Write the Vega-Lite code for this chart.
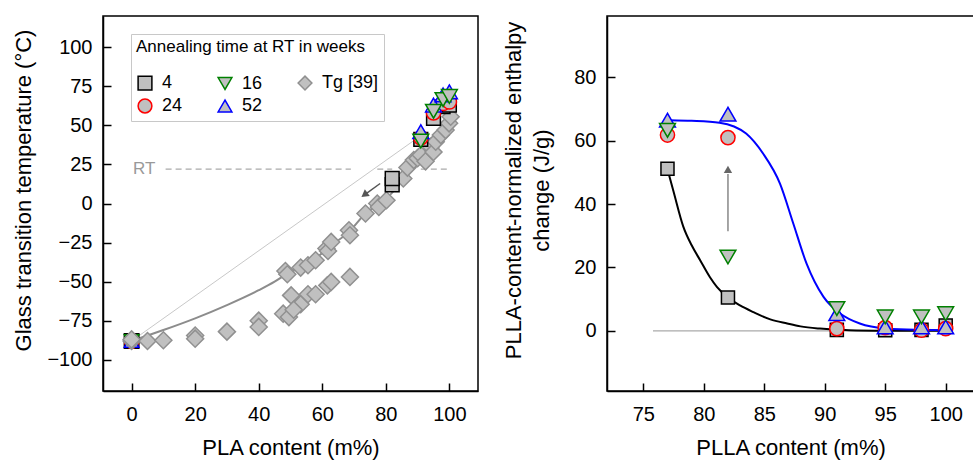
{
"$schema":"https://vega.github.io/schema/vega-lite/v6.json",
"autosize":{"type":"pad"},
"padding":{"left":12,"top":15,"right":0,"bottom":0},
"bounds":"flush",
"spacing":129,
"config":{
 "font":"Liberation Sans",
 "view":{"stroke":"black","strokeWidth":1.5},
 "axis":{"grid":false,"domainColor":"black","domainWidth":1.5,"tickColor":"black","tickWidth":1.5,"tickSize":-8,"labelFontSize":20,"labelColor":"black","labelPadding":19,"titleFontSize":22,"titleFontWeight":"normal","titleColor":"black","labelFlush":false,"labelOverlap":false},
 "axisX":{"labelPadding":21.5,"titlePadding":13},
 "point":{"opacity":1}
},
"resolve":{"scale":{"shape":"independent","stroke":"independent"}},
"datasets":{
 "tg":[
  {"x":0,"y":-88,"s":"Tg [39]"},{"x":0,"y":-87,"s":"Tg [39]"},{"x":5,"y":-88,"s":"Tg [39]"},{"x":10,"y":-87.5,"s":"Tg [39]"},
  {"x":20,"y":-84.5,"s":"Tg [39]"},{"x":20,"y":-86.5,"s":"Tg [39]"},{"x":30,"y":-82,"s":"Tg [39]"},{"x":40,"y":-75,"s":"Tg [39]"},{"x":40,"y":-79,"s":"Tg [39]"},
  {"x":47.7,"y":-70.5,"s":"Tg [39]"},{"x":49.5,"y":-72.7,"s":"Tg [39]"},{"x":50.2,"y":-58.8,"s":"Tg [39]"},{"x":53.2,"y":-64.5,"s":"Tg [39]"},{"x":51,"y":-68,"s":"Tg [39]"},
  {"x":55.5,"y":-58.1,"s":"Tg [39]"},{"x":57.9,"y":-58.1,"s":"Tg [39]"},{"x":61.6,"y":-52.4,"s":"Tg [39]"},{"x":62.8,"y":-50.2,"s":"Tg [39]"},{"x":68.7,"y":-47,"s":"Tg [39]"},
  {"x":48.4,"y":-43.2,"s":"Tg [39]"},{"x":49,"y":-45.3,"s":"Tg [39]"},{"x":53.2,"y":-41,"s":"Tg [39]"},{"x":55.5,"y":-39.5,"s":"Tg [39]"},{"x":57.9,"y":-36.3,"s":"Tg [39]"},
  {"x":61.3,"y":-28.8,"s":"Tg [39]"},{"x":61.8,"y":-30.4,"s":"Tg [39]"},{"x":62.8,"y":-24.6,"s":"Tg [39]"},{"x":68.4,"y":-17.1,"s":"Tg [39]"},{"x":68.7,"y":-20.3,"s":"Tg [39]"},
  {"x":73.6,"y":-6.4,"s":"Tg [39]"},{"x":77.3,"y":0,"s":"Tg [39]"},{"x":77.8,"y":-2.2,"s":"Tg [39]"},{"x":80.2,"y":2.1,"s":"Tg [39]"},{"x":85.5,"y":16,"s":"Tg [39]"},
  {"x":86.8,"y":23,"s":"Tg [39]"},{"x":88.8,"y":27.8,"s":"Tg [39]"},{"x":90,"y":29,"s":"Tg [39]"},{"x":91,"y":31,"s":"Tg [39]"},{"x":92.5,"y":27,"s":"Tg [39]"},
  {"x":94.1,"y":36.3,"s":"Tg [39]"},{"x":95,"y":33,"s":"Tg [39]"},{"x":95.7,"y":39.5,"s":"Tg [39]"},{"x":97.3,"y":43.8,"s":"Tg [39]"},{"x":98.8,"y":47,"s":"Tg [39]"},
  {"x":99.9,"y":51.3,"s":"Tg [39]"},{"x":100.4,"y":55.5,"s":"Tg [39]"}
 ],
 "annL0":[{"x":0,"y":-88,"s":"4"},{"x":0,"y":-88,"s":"24"},{"x":0,"y":-88,"s":"52"},{"x":0,"y":-88,"s":"16"}],
 "annL":[
  {"x":82,"y":12,"s":"4"},{"x":82,"y":16,"s":"4"},
  {"x":91,"y":41,"s":"4"},{"x":91,"y":42,"s":"24"},{"x":91,"y":46,"s":"52"},{"x":91,"y":40,"s":"16"},
  {"x":95,"y":54.5,"s":"4"},{"x":95,"y":58,"s":"24"},{"x":95,"y":63,"s":"52"},{"x":95,"y":59,"s":"16"},
  {"x":98,"y":62,"s":"4"},{"x":98,"y":64,"s":"24"},{"x":98,"y":69.5,"s":"52"},{"x":98,"y":66.5,"s":"16"},
  {"x":100,"y":63,"s":"4"},{"x":100,"y":65,"s":"24"},{"x":100,"y":71.5,"s":"52"},{"x":100,"y":68.5,"s":"16"}
 ],
 "annR":[
  {"x":77,"y":51.2,"s":"4"},{"x":77,"y":61.8,"s":"24"},{"x":77,"y":66.5,"s":"52"},{"x":77,"y":63.3,"s":"16"},
  {"x":82,"y":10.5,"s":"4"},{"x":82,"y":61,"s":"24"},{"x":82,"y":68.4,"s":"52"},{"x":82,"y":23.3,"s":"16"},
  {"x":91,"y":0.3,"s":"4"},{"x":91,"y":0.7,"s":"24"},{"x":91,"y":5.4,"s":"52"},{"x":91,"y":7,"s":"16"},
  {"x":95,"y":0.2,"s":"4"},{"x":95,"y":1,"s":"24"},{"x":95,"y":1.2,"s":"52"},{"x":95,"y":4.4,"s":"16"},
  {"x":98,"y":0.3,"s":"4"},{"x":98,"y":0.2,"s":"24"},{"x":98,"y":1.2,"s":"52"},{"x":98,"y":4.4,"s":"16"},
  {"x":100,"y":1.7,"s":"4"},{"x":100,"y":0.7,"s":"24"},{"x":100,"y":1.2,"s":"52"},{"x":100,"y":5.4,"s":"16"}
 ],
 "thinL":[{"x":0,"y":-88},{"x":90,"y":42}],
 "curveL":[{"x":0,"y":-88},{"x":10,"y":-81},{"x":20,"y":-73.5},{"x":30,"y":-65},{"x":40,"y":-55.5},{"x":45,"y":-50},{"x":48.5,"y":-45.5},{"x":54,"y":-39.5},{"x":58,"y":-35},{"x":62,"y":-28},{"x":68.5,"y":-18},{"x":73.6,"y":-6.4},{"x":78,"y":0},{"x":82,"y":7},{"x":86,"y":18},{"x":90,"y":29},{"x":94,"y":36},{"x":98,"y":46},{"x":100.4,"y":54}],
 "rtL":[{"x":10.7,"x2":69,"y":22},{"x":77.3,"x2":82,"y":22},{"x":91,"x2":100.4,"y":22}],
 "rtText":[{"x":7.5,"y":22,"t":"RT"}],
 "arrowL":[{"x":78.2,"y":12.8,"x2":73.6,"y2":6}],
 "arrowLHead":[{"x":73.25,"y":5.6}],
 "zeroR":[{"x":75.8,"x2":100.4,"y":0}],
 "fitBlack":[{"x":77,"y":51},{"x":77.5,"y":44},{"x":78.3,"y":33},{"x":79,"y":27},{"x":79.7,"y":22.3},{"x":80.5,"y":17},{"x":81.1,"y":13.8},{"x":82,"y":10.5},{"x":83,"y":8},{"x":84.1,"y":5.9},{"x":85.5,"y":3.6},{"x":86.9,"y":2.3},{"x":88,"y":1.4},{"x":89.6,"y":0.7},{"x":92,"y":0.2},{"x":95,"y":0.05},{"x":100,"y":0}],
 "fitBlue":[{"x":77.2,"y":66.5},{"x":79,"y":66.3},{"x":81.3,"y":65.7},{"x":82.5,"y":64.5},{"x":83.5,"y":62.3},{"x":84.9,"y":56},{"x":86.3,"y":46.5},{"x":87.4,"y":33.9},{"x":88.5,"y":21.2},{"x":89.9,"y":10.7},{"x":91.3,"y":5.4},{"x":92.9,"y":2.3},{"x":95.1,"y":0.7},{"x":97.5,"y":0.3},{"x":100.4,"y":0.2}],
 "arrowR":[{"x":82,"y":31.4,"y2":49.5}],
 "arrowRHead":[{"x":82,"y":51}]
},
"hconcat":[
 {
  "width":375,"height":375,
  "layer":[
   {"data":{"name":"thinL"},"mark":{"type":"line","color":"#c8c8c8","strokeWidth":1},
    "encoding":{
     "x":{"field":"x","type":"quantitative","scale":{"domain":[-9,109],"nice":false,"zero":false},"axis":{"values":[0,20,40,60,80,100],"title":"PLA content (m%)"}},
     "y":{"field":"y","type":"quantitative","scale":{"domain":[-120,120],"nice":false,"zero":false},"axis":{"values":[-100,-75,-50,-25,0,25,50,75,100],"title":"Glass transition temperature (°C)","titlePadding":11,"titleY":174}}}},
   {"data":{"name":"curveL"},"mark":{"type":"line","color":"#8c8c8c","strokeWidth":2,"interpolate":"monotone"},
    "encoding":{
     "x":{"field":"x","type":"quantitative","scale":{"domain":[-9,109],"nice":false,"zero":false}},
     "y":{"field":"y","type":"quantitative","scale":{"domain":[-120,120],"nice":false,"zero":false}}}},
   {"data":{"name":"rtL"},"mark":{"type":"rule","color":"#aaaaaa","strokeWidth":1.2,"strokeDash":[6,4]},
    "encoding":{
     "x":{"field":"x","type":"quantitative","scale":{"domain":[-9,109],"nice":false,"zero":false}},
     "x2":{"field":"x2"},
     "y":{"field":"y","type":"quantitative","scale":{"domain":[-120,120],"nice":false,"zero":false}}}},
   {"data":{"name":"rtText"},"mark":{"type":"text","align":"right","baseline":"middle","fontSize":17,"color":"#999999"},
    "encoding":{
     "x":{"field":"x","type":"quantitative","scale":{"domain":[-9,109],"nice":false,"zero":false}},
     "y":{"field":"y","type":"quantitative","scale":{"domain":[-120,120],"nice":false,"zero":false}},
     "text":{"field":"t"}}},
   {"data":{"name":"annL0"},"mark":{"type":"point","filled":true,"fill":"#c0c0c0","strokeWidth":1.5,"size":210,"opacity":1},
    "encoding":{
     "x":{"field":"x","type":"quantitative","scale":{"domain":[-9,109],"nice":false,"zero":false}},
     "y":{"field":"y","type":"quantitative","scale":{"domain":[-120,120],"nice":false,"zero":false}},
     "shape":{"field":"s","type":"nominal","scale":{"domain":["4","24","16","52","Tg [39]"],"range":["square","circle","triangle-down","triangle-up","diamond"]},
      "legend":{"orient":"none","legendX":28,"legendY":18,"title":"Annealing  time at RT in weeks","titleLimit":400,"titleFontSize":17,"titleFontWeight":"normal","titleColor":"black","titlePadding":18,"columns":3,"columnPadding":32,"rowPadding":3,"labelFontSize":18,"labelColor":"black","labelOffset":8,"symbolSize":190,"symbolStrokeWidth":1.5,"symbolFillColor":"#c0c0c0","strokeColor":"#c8c8c8","fillColor":"white","padding":5}},
     "stroke":{"field":"s","type":"nominal","scale":{"domain":["4","24","16","52","Tg [39]"],"range":["black","#ff0000","#008000","#0000ff","#909090"]},
      "legend":{"orient":"none","legendX":28,"legendY":18,"title":"Annealing  time at RT in weeks","titleLimit":400,"titleFontSize":17,"titleFontWeight":"normal","titleColor":"black","titlePadding":18,"columns":3,"columnPadding":32,"rowPadding":3,"labelFontSize":18,"labelColor":"black","labelOffset":8,"symbolSize":190,"symbolStrokeWidth":1.5,"symbolFillColor":"#c0c0c0","strokeColor":"#c8c8c8","fillColor":"white","padding":5}}}},
   {"data":{"name":"tg"},"mark":{"type":"point","filled":true,"fill":"#c0c0c0","strokeWidth":1.5,"size":290,"opacity":1},
    "encoding":{
     "x":{"field":"x","type":"quantitative","scale":{"domain":[-9,109],"nice":false,"zero":false}},
     "y":{"field":"y","type":"quantitative","scale":{"domain":[-120,120],"nice":false,"zero":false}},
     "shape":{"field":"s","type":"nominal","scale":{"domain":["4","24","16","52","Tg [39]"],"range":["square","circle","triangle-down","triangle-up","diamond"]}},
     "stroke":{"field":"s","type":"nominal","scale":{"domain":["4","24","16","52","Tg [39]"],"range":["black","#ff0000","#008000","#0000ff","#909090"]}}}},
   {"data":{"name":"arrowL"},"mark":{"type":"rule","color":"#555555","strokeWidth":1.5},
    "encoding":{
     "x":{"field":"x","type":"quantitative","scale":{"domain":[-9,109],"nice":false,"zero":false}},
     "y":{"field":"y","type":"quantitative","scale":{"domain":[-120,120],"nice":false,"zero":false}},
     "x2":{"field":"x2"},"y2":{"field":"y2"}}},
   {"data":{"name":"arrowLHead"},"mark":{"type":"point","shape":"triangle-up","filled":true,"color":"#555555","size":70,"angle":234,"opacity":1},
    "encoding":{
     "x":{"field":"x","type":"quantitative","scale":{"domain":[-9,109],"nice":false,"zero":false}},
     "y":{"field":"y","type":"quantitative","scale":{"domain":[-120,120],"nice":false,"zero":false}}}},
   {"data":{"name":"annL"},"mark":{"type":"point","filled":true,"fill":"#c0c0c0","strokeWidth":1.5,"size":190,"opacity":1},
    "transform":[{"filter":"datum.s == '4'"}],
    "encoding":{
     "x":{"field":"x","type":"quantitative","scale":{"domain":[-9,109],"nice":false,"zero":false}},
     "y":{"field":"y","type":"quantitative","scale":{"domain":[-120,120],"nice":false,"zero":false}},
     "shape":{"field":"s","type":"nominal","scale":{"domain":["4","24","16","52","Tg [39]"],"range":["square","circle","triangle-down","triangle-up","diamond"]}},
     "stroke":{"field":"s","type":"nominal","scale":{"domain":["4","24","16","52","Tg [39]"],"range":["black","#ff0000","#008000","#0000ff","#909090"]}}}},
   {"data":{"name":"annL"},"mark":{"type":"point","filled":true,"fill":"#c0c0c0","strokeWidth":1.5,"size":200,"opacity":1},
    "transform":[{"filter":"datum.s == '24'"}],
    "encoding":{
     "x":{"field":"x","type":"quantitative","scale":{"domain":[-9,109],"nice":false,"zero":false}},
     "y":{"field":"y","type":"quantitative","scale":{"domain":[-120,120],"nice":false,"zero":false}},
     "shape":{"field":"s","type":"nominal","scale":{"domain":["4","24","16","52","Tg [39]"],"range":["square","circle","triangle-down","triangle-up","diamond"]}},
     "stroke":{"field":"s","type":"nominal","scale":{"domain":["4","24","16","52","Tg [39]"],"range":["black","#ff0000","#008000","#0000ff","#909090"]}}}},
   {"data":{"name":"annL"},"mark":{"type":"point","filled":true,"fill":"#c0c0c0","strokeWidth":1.5,"size":250,"opacity":1},
    "transform":[{"filter":"datum.s == '52'"}],
    "encoding":{
     "x":{"field":"x","type":"quantitative","scale":{"domain":[-9,109],"nice":false,"zero":false}},
     "y":{"field":"y","type":"quantitative","scale":{"domain":[-120,120],"nice":false,"zero":false}},
     "shape":{"field":"s","type":"nominal","scale":{"domain":["4","24","16","52","Tg [39]"],"range":["square","circle","triangle-down","triangle-up","diamond"]}},
     "stroke":{"field":"s","type":"nominal","scale":{"domain":["4","24","16","52","Tg [39]"],"range":["black","#ff0000","#008000","#0000ff","#909090"]}}}},
   {"data":{"name":"annL"},"mark":{"type":"point","filled":true,"fill":"#c0c0c0","strokeWidth":1.5,"size":250,"opacity":1},
    "transform":[{"filter":"datum.s == '16'"}],
    "encoding":{
     "x":{"field":"x","type":"quantitative","scale":{"domain":[-9,109],"nice":false,"zero":false}},
     "y":{"field":"y","type":"quantitative","scale":{"domain":[-120,120],"nice":false,"zero":false}},
     "shape":{"field":"s","type":"nominal","scale":{"domain":["4","24","16","52","Tg [39]"],"range":["square","circle","triangle-down","triangle-up","diamond"]}},
     "stroke":{"field":"s","type":"nominal","scale":{"domain":["4","24","16","52","Tg [39]"],"range":["black","#ff0000","#008000","#0000ff","#909090"]}}}}
  ]
 },
 {
  "width":367,"height":375,
  "layer":[
   {"data":{"name":"zeroR"},"mark":{"type":"rule","color":"#aaaaaa","strokeWidth":1.2},
    "encoding":{
     "x":{"field":"x","type":"quantitative","scale":{"domain":[72,102.34],"nice":false,"zero":false},"axis":{"values":[75,80,85,90,95,100],"title":"PLLA content (m%)"}},
     "x2":{"field":"x2"},
     "y":{"field":"y","type":"quantitative","scale":{"domain":[-19,99.4],"nice":false,"zero":false},"axis":{"values":[0,20,40,60,80],"title":["PLLA-content-normalized enthalpy","change (J/g)"],"titlePadding":20,"titleY":174,"titleLineHeight":28}}}},
   {"data":{"name":"fitBlack"},"mark":{"type":"line","color":"black","strokeWidth":2,"interpolate":"monotone"},
    "encoding":{
     "x":{"field":"x","type":"quantitative","scale":{"domain":[72,102.34],"nice":false,"zero":false}},
     "y":{"field":"y","type":"quantitative","scale":{"domain":[-19,99.4],"nice":false,"zero":false}}}},
   {"data":{"name":"fitBlue"},"mark":{"type":"line","color":"#0000ff","strokeWidth":2,"interpolate":"monotone"},
    "encoding":{
     "x":{"field":"x","type":"quantitative","scale":{"domain":[72,102.34],"nice":false,"zero":false}},
     "y":{"field":"y","type":"quantitative","scale":{"domain":[-19,99.4],"nice":false,"zero":false}}}},
   {"data":{"name":"arrowR"},"mark":{"type":"rule","color":"#888888","strokeWidth":1.5},
    "encoding":{
     "x":{"field":"x","type":"quantitative","scale":{"domain":[72,102.34],"nice":false,"zero":false}},
     "y":{"field":"y","type":"quantitative","scale":{"domain":[-19,99.4],"nice":false,"zero":false}},
     "y2":{"field":"y2"}}},
   {"data":{"name":"arrowRHead"},"mark":{"type":"point","shape":"triangle-up","filled":true,"color":"#666666","size":70,"opacity":1},
    "encoding":{
     "x":{"field":"x","type":"quantitative","scale":{"domain":[72,102.34],"nice":false,"zero":false}},
     "y":{"field":"y","type":"quantitative","scale":{"domain":[-19,99.4],"nice":false,"zero":false}}}},
   {"data":{"name":"annR"},"mark":{"type":"point","filled":true,"fill":"#c0c0c0","strokeWidth":1.5,"size":170,"opacity":1},
    "transform":[{"filter":"datum.s == '4'"}],
    "encoding":{
     "x":{"field":"x","type":"quantitative","scale":{"domain":[72,102.34],"nice":false,"zero":false}},
     "y":{"field":"y","type":"quantitative","scale":{"domain":[-19,99.4],"nice":false,"zero":false}},
     "shape":{"field":"s","type":"nominal","scale":{"domain":["4","24","16","52","Tg [39]"],"range":["square","circle","triangle-down","triangle-up","diamond"]},"legend":null},
     "stroke":{"field":"s","type":"nominal","scale":{"domain":["4","24","16","52","Tg [39]"],"range":["black","#ff0000","#008000","#0000ff","#909090"]},"legend":null}}},
   {"data":{"name":"annR"},"mark":{"type":"point","filled":true,"fill":"#c0c0c0","strokeWidth":1.5,"size":200,"opacity":1},
    "transform":[{"filter":"datum.s == '24'"}],
    "encoding":{
     "x":{"field":"x","type":"quantitative","scale":{"domain":[72,102.34],"nice":false,"zero":false}},
     "y":{"field":"y","type":"quantitative","scale":{"domain":[-19,99.4],"nice":false,"zero":false}},
     "shape":{"field":"s","type":"nominal","scale":{"domain":["4","24","16","52","Tg [39]"],"range":["square","circle","triangle-down","triangle-up","diamond"]},"legend":null},
     "stroke":{"field":"s","type":"nominal","scale":{"domain":["4","24","16","52","Tg [39]"],"range":["black","#ff0000","#008000","#0000ff","#909090"]},"legend":null}}},
   {"data":{"name":"annR"},"mark":{"type":"point","filled":true,"fill":"#c0c0c0","strokeWidth":1.5,"size":250,"opacity":1},
    "transform":[{"filter":"datum.s == '52'"}],
    "encoding":{
     "x":{"field":"x","type":"quantitative","scale":{"domain":[72,102.34],"nice":false,"zero":false}},
     "y":{"field":"y","type":"quantitative","scale":{"domain":[-19,99.4],"nice":false,"zero":false}},
     "shape":{"field":"s","type":"nominal","scale":{"domain":["4","24","16","52","Tg [39]"],"range":["square","circle","triangle-down","triangle-up","diamond"]},"legend":null},
     "stroke":{"field":"s","type":"nominal","scale":{"domain":["4","24","16","52","Tg [39]"],"range":["black","#ff0000","#008000","#0000ff","#909090"]},"legend":null}}},
   {"data":{"name":"annR"},"mark":{"type":"point","filled":true,"fill":"#c0c0c0","strokeWidth":1.5,"size":250,"opacity":1},
    "transform":[{"filter":"datum.s == '16'"}],
    "encoding":{
     "x":{"field":"x","type":"quantitative","scale":{"domain":[72,102.34],"nice":false,"zero":false}},
     "y":{"field":"y","type":"quantitative","scale":{"domain":[-19,99.4],"nice":false,"zero":false}},
     "shape":{"field":"s","type":"nominal","scale":{"domain":["4","24","16","52","Tg [39]"],"range":["square","circle","triangle-down","triangle-up","diamond"]},"legend":null},
     "stroke":{"field":"s","type":"nominal","scale":{"domain":["4","24","16","52","Tg [39]"],"range":["black","#ff0000","#008000","#0000ff","#909090"]},"legend":null}}}
  ]
 }
]
}
